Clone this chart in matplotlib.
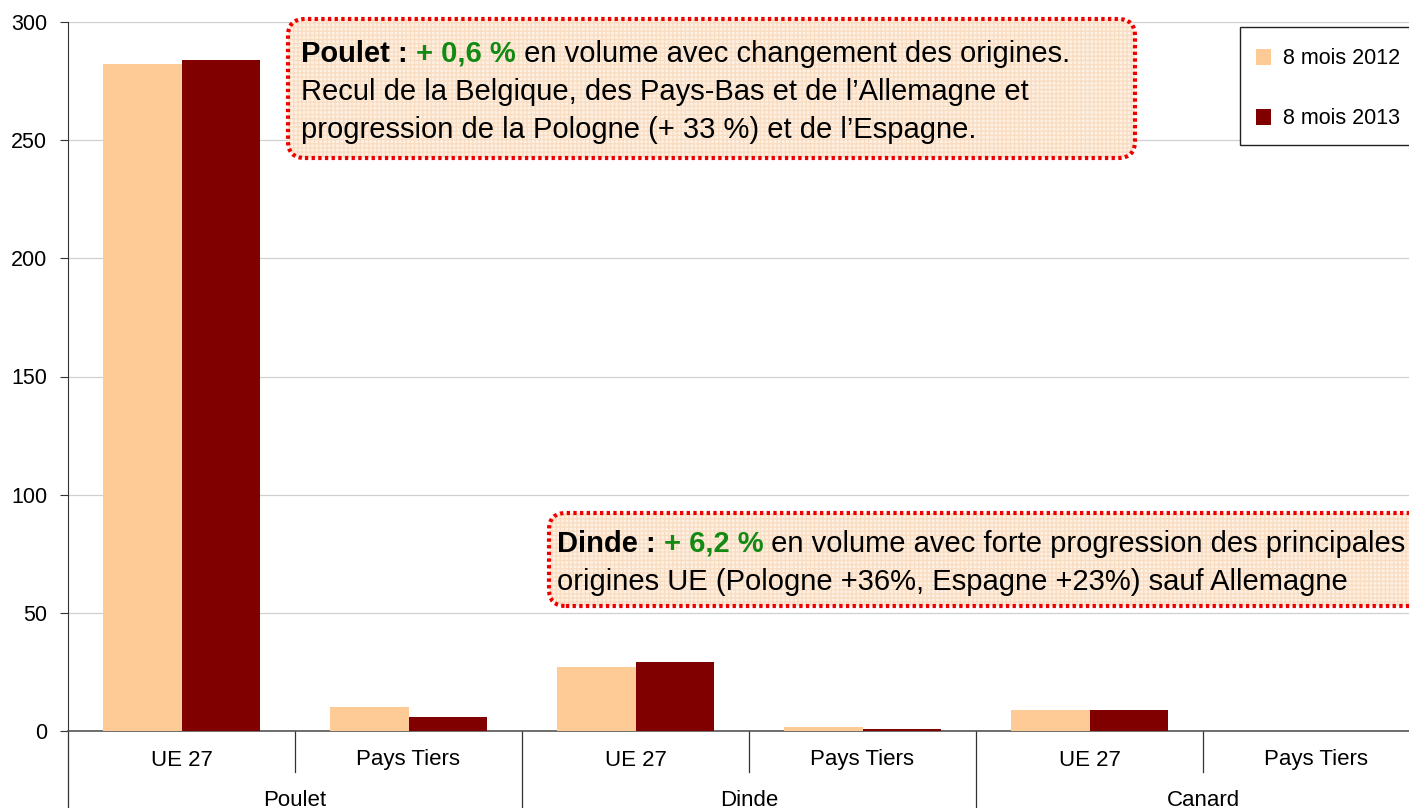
import matplotlib
matplotlib.use("Agg")
import matplotlib.pyplot as plt
from matplotlib.patches import FancyBboxPatch, Rectangle
from matplotlib.text import Annotation
import numpy as np

plt.rcParams['font.family'] = ['Liberation Sans', 'DejaVu Sans']

groups = ["Poulet", "Dinde", "Canard"]
subcats = ["UE 27", "Pays Tiers", "UE 27", "Pays Tiers", "UE 27", "Pays Tiers"]
series_names = ["8 mois 2012", "8 mois 2013"]
vals_2012 = [282.3, 10.2, 27.1, 1.7, 8.9, 0.0]
vals_2013 = [284.0, 5.9, 29.2, 0.8, 8.9, 0.0]
colors = ["#FECB96", "#800000"]
yticks = [0, 50, 100, 150, 200, 250, 300]

W, H = 1409, 808
fig = plt.figure(figsize=(W/100, H/100), dpi=100)
# axes extends past the right edge (clipped in reference)
x0, x1 = 68, 1430
y0, y1 = 731, 22
ax = fig.add_axes([x0/W, 1 - y0/H, (x1-x0)/W, (y0-y1)/H])

x = np.arange(len(subcats))
bw = 0.345
ax.bar(x - bw/2, vals_2012, bw, color=colors[0], label=series_names[0], zorder=3)
ax.bar(x + bw/2, vals_2013, bw, color=colors[1], label=series_names[1], zorder=3)

ax.set_xlim(-0.5, len(subcats) - 0.5)
ax.set_ylim(0, 300)
ax.set_yticks(yticks)
ax.tick_params(axis='y', labelsize=15.5, length=6, width=0.8, color='#333333', pad=9)
ax.yaxis.grid(True, color='#d0d0d0', linewidth=0.9, zorder=0)
ax.set_axisbelow(True)
for s in ['top', 'right']:
    ax.spines[s].set_visible(False)
ax.spines['left'].set_color('#333333')
ax.spines['bottom'].set_color('#555555')
ax.spines['bottom'].set_linewidth(1.2)

# x labels
ax.set_xticks([])
trans = ax.get_xaxis_transform()
h_ax = (y0 - y1)
for i, lab in enumerate(subcats):
    ax.text(i, -(760 - y0)/h_ax, lab, transform=trans, ha='center', va='center', fontsize=16, clip_on=False)
# separators
for b in range(1, len(subcats)):
    bx = b - 0.5
    if b % 2 == 0:
        ax.plot([bx, bx], [0, -0.12], transform=trans, color='#333333', lw=0.9, clip_on=False)
    else:
        ax.plot([bx, bx], [0, -(772 - y0)/h_ax], transform=trans, color='#333333', lw=0.9, clip_on=False)
ax.plot([-0.5, -0.5], [0, -0.12], transform=trans, color='#333333', lw=0.9, clip_on=False)
for g, lab in enumerate(groups):
    ax.text(2*g + 0.5, -(800 - y0)/h_ax, lab, transform=trans, ha='center', va='center', fontsize=16, clip_on=False)

# legend
leg_box = Rectangle((1240/W, 1 - 145/H), 200/W, 118/H, transform=fig.transFigure,
                    facecolor='white', edgecolor='#222222', lw=1.0, zorder=5)
fig.add_artist(leg_box)
for k, (name, c) in enumerate(zip(series_names, colors)):
    yy = 57 + 60*k
    fig.add_artist(Rectangle((1256/W, 1 - (yy+7.5)/H), 15/W, 15/H, transform=fig.transFigure,
                             facecolor=c, edgecolor='none', zorder=6))
    fig.text(1283/W, 1 - (yy+2)/H, name, fontsize=15.5, va='center', ha='left', zorder=6)

def note_box(bx0, by0, bx1, by1):
    rect = (bx0/W, 1 - by1/H, (bx1-bx0)/W, (by1-by0)/H)
    p1 = FancyBboxPatch(rect[:2], rect[2], rect[3], boxstyle="round,pad=0,rounding_size=0.012",
                        transform=fig.transFigure, facecolor='#FEF1E4', edgecolor='#F9DDC2',
                        hatch='++++', lw=0, zorder=7, mutation_aspect=W/H)
    p2 = FancyBboxPatch(rect[:2], rect[2], rect[3], boxstyle="round,pad=0,rounding_size=0.012",
                        transform=fig.transFigure, facecolor='none', edgecolor='#EE0000',
                        lw=3, linestyle=(0, (0.8, 0.8)), zorder=8, mutation_aspect=W/H)
    fig.add_artist(p1)
    fig.add_artist(p2)

def rich_line(xpx, ypx, parts, fs=21):
    prev = None
    for txt, bold, col in parts:
        if prev is None:
            t = fig.text(xpx/W, 1 - ypx/H, txt, fontsize=fs, fontweight='bold' if bold else 'normal',
                         color=col, ha='left', va='baseline', zorder=9)
        else:
            t = Annotation(txt, xy=(1, 1 - ypx/H), xycoords=(prev, 'figure fraction'),
                           fontsize=fs, fontweight='bold' if bold else 'normal', color=col,
                           ha='left', va='baseline', zorder=9, annotation_clip=False)
            fig.add_artist(t)
        prev = t

green = '#138A13'
note_box(288, 19, 1135, 158)
rich_line(301, 62, [("Poulet : ", True, 'black'), ("+ 0,6 %", True, green),
                    (" en volume avec changement des origines.", False, 'black')])
rich_line(301, 100, [("Recul de la Belgique, des Pays-Bas et de l\u2019Allemagne et", False, 'black')])
rich_line(301, 138, [("progression de la Pologne (+ 33 %) et de l\u2019Espagne.", False, 'black')])

note_box(549, 513, 1460, 606)
rich_line(557, 552, [("Dinde : ", True, 'black'), ("+ 6,2 %", True, green),
                     (" en volume avec forte progression des principales", False, 'black')])
rich_line(557, 590, [("origines UE (Pologne +36%, Espagne +23%) sauf Allemagne", False, 'black')])

fig.savefig("out.png", dpi=100)
